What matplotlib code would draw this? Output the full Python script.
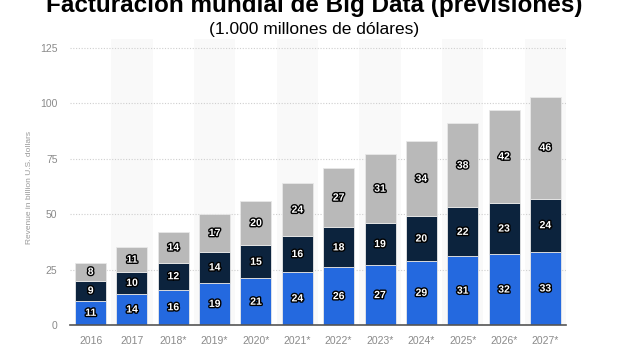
import matplotlib.pyplot as plt
import matplotlib.patheffects as pe
import numpy as np

years = ['2016', '2017', '2018*', '2019*', '2020*', '2021*', '2022*',
         '2023*', '2024*', '2025*', '2026*', '2027*']
blue_vals = [11, 14, 16, 19, 21, 24, 26, 27, 29, 31, 32, 33]
navy_vals = [9, 10, 12, 14, 15, 16, 18, 19, 20, 22, 23, 24]
gray_vals = [8, 11, 14, 17, 20, 24, 27, 31, 34, 38, 42, 46]
y_ticks = [0, 25, 50, 75, 100, 125]

colors = ['#2469df', '#0c233d', '#b9b9b9']

plt.rcParams['font.family'] = ['Liberation Sans', 'DejaVu Sans']
fig = plt.figure(figsize=(6.4, 3.58), dpi=100)
ax = fig.add_axes([70 / 640, 33 / 358, 496 / 640, 286 / 358])

x = np.arange(len(years))
# alternating background bands
for i in x:
    if i % 2 == 1:
        ax.axvspan(i - 0.5, i + 0.5, color='#f9f9f9', zorder=0, lw=0)

bottom = np.zeros(len(years))
stroke = [pe.withStroke(linewidth=2, foreground='black')]
for vals, c in zip([blue_vals, navy_vals, gray_vals], colors):
    vals = np.array(vals)
    ax.bar(x, vals, 0.75, bottom=bottom, color=c, edgecolor='#e8e8e8',
           linewidth=0.6, zorder=3)
    for xi, b, v in zip(x, bottom, vals):
        ax.text(xi, b + v / 2, str(v), ha='center', va='center', color='white',
                fontsize=7.5, fontweight='bold', path_effects=stroke, zorder=4)
    bottom = bottom + vals

ax.set_xlim(-0.5, 11.5)
ax.set_ylim(0, 129)
ax.set_yticks(y_ticks)
ax.set_xticks(x)
ax.set_xticklabels(years)
ax.tick_params(axis='both', length=0, colors='#8a8a8a', labelsize=7.5)
ax.tick_params(axis='y', pad=9)
ax.tick_params(axis='x', pad=8)
ax.yaxis.grid(True, linestyle=(0, (1, 1.5)), color='#cfcfcf', lw=0.8, zorder=1)
ax.set_axisbelow(True)
for s in ['left', 'right', 'top']:
    ax.spines[s].set_visible(False)
ax.spines['bottom'].set_color('#555555')
ax.spines['bottom'].set_linewidth(1.2)
ax.spines['bottom'].set_zorder(5)

fig.text(30 / 640, 1 - 187 / 358, 'Revenue in billion U.S. dollars', rotation=90,
         ha='center', va='center', fontsize=6, color='#999999')
fig.text(0.491, 1 - 12 / 358, 'Facturación mundial de Big Data (previsiones)',
         ha='center', va='baseline', fontsize=17.5, fontweight='bold')
fig.text(0.491, 1 - 34 / 358, '(1.000 millones de dólares)',
         ha='center', va='baseline', fontsize=12.5)

fig.savefig('out.png', dpi=100)
